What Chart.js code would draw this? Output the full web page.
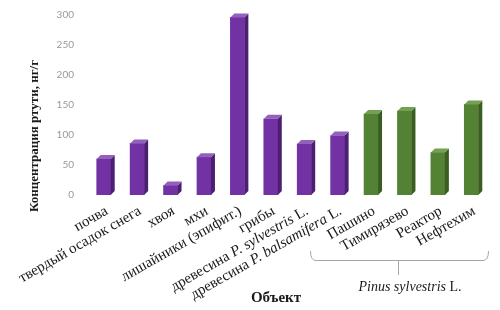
<!DOCTYPE html>
<html>
<head>
<meta charset="utf-8">
<script src="https://cdn.jsdelivr.net/npm/chart.js@4"></script>
<style>
  html, body { margin: 0; padding: 0; background: #fff; }
</style>
</head>
<body>
<canvas id="chart" width="500" height="310"></canvas>
<script>
// Chart data
const categories = [
  'почва', 'твердый осадок снега', 'хвоя', 'мхи', 'лишайники (эпифит.)', 'грибы',
  'древесина P. sylvestris L.', 'древесина P. balsamifera L.',
  'Пашино', 'Тимирязево', 'Реактор', 'Нефтехим'
];
const mercury = [60, 86, 16, 63, 296, 127, 85, 99, 135, 140, 71, 151];
const groups = ['other', 'other', 'other', 'other', 'other', 'other', 'other', 'other',
  'pinus', 'pinus', 'pinus', 'pinus'];
const yTicks = [0, 50, 100, 150, 200, 250, 300];
const italicParts = ['P. sylvestris', 'P. balsamifera'];

const palette = {
  other: { front: '#7232a3', side: '#4d1f73', top: '#9460bd' },
  pinus: { front: '#548235', side: '#3a5d22', top: '#74a052' }
};
const serif = '"Liberation Serif", "DejaVu Serif", serif';
const depth = 4;

function splitLabel(text) {
  for (const part of italicParts) {
    const k = text.indexOf(part);
    if (k >= 0) {
      return [
        { t: text.slice(0, k), it: false },
        { t: part, it: true },
        { t: text.slice(k + part.length), it: false }
      ];
    }
  }
  return [{ t: text, it: false }];
}

const decor = {
  id: 'decor',
  afterDatasetsDraw(chart) {
    const ctx = chart.ctx;
    const meta = chart.getDatasetMeta(0);
    ctx.save();
    meta.data.forEach((bar, i) => {
      const p = bar.getProps(['x', 'y', 'base', 'width'], true);
      const h = p.width / 2;
      const c = palette[groups[i]];
      // side face
      ctx.fillStyle = c.side;
      ctx.beginPath();
      ctx.moveTo(p.x + h, p.y);
      ctx.lineTo(p.x + h + depth, p.y - depth);
      ctx.lineTo(p.x + h + depth, p.base - depth);
      ctx.lineTo(p.x + h, p.base);
      ctx.closePath();
      ctx.fill();
      // top face
      ctx.fillStyle = c.top;
      ctx.beginPath();
      ctx.moveTo(p.x - h, p.y);
      ctx.lineTo(p.x - h + depth, p.y - depth);
      ctx.lineTo(p.x + h + depth, p.y - depth);
      ctx.lineTo(p.x + h, p.y);
      ctx.closePath();
      ctx.fill();
    });
    ctx.restore();
  },
  afterDraw(chart) {
    const ctx = chart.ctx;
    const xs = chart.scales.x;
    ctx.save();
    ctx.fillStyle = '#1a1a1a';

    // rotated category labels, some words in italics
    categories.forEach((label, i) => {
      const segs = splitLabel(label);
      const x = xs.getPixelForValue(i) + 3;
      ctx.save();
      ctx.translate(x, 210);
      ctx.rotate(-30 * Math.PI / 180);
      ctx.textBaseline = 'middle';
      ctx.textAlign = 'left';
      let total = 0;
      segs.forEach(s => {
        ctx.font = (s.it ? 'italic ' : '') + '15px ' + serif;
        s.w = ctx.measureText(s.t).width;
        total += s.w;
      });
      let cx = -total;
      segs.forEach(s => {
        ctx.font = (s.it ? 'italic ' : '') + '15px ' + serif;
        ctx.fillText(s.t, cx, 0);
        cx += s.w;
      });
      ctx.restore();
    });

    // y axis title
    ctx.save();
    ctx.translate(35, 136);
    ctx.rotate(-Math.PI / 2);
    ctx.font = 'bold 13px ' + serif;
    ctx.textAlign = 'center';
    ctx.textBaseline = 'middle';
    ctx.fillText('Концентрация ртути, нг/г', 0, 0);
    ctx.restore();

    // x axis title
    ctx.font = 'bold 15px ' + serif;
    ctx.textAlign = 'center';
    ctx.textBaseline = 'middle';
    ctx.fillText('Объект', 276, 298);

    // bracket under the Pinus group
    ctx.strokeStyle = '#a6a6a6';
    ctx.lineWidth = 1;
    ctx.beginPath();
    ctx.moveTo(310.5, 251);
    ctx.quadraticCurveTo(310.5, 260.5, 316, 260.5);
    ctx.lineTo(483, 260.5);
    ctx.quadraticCurveTo(488.5, 260.5, 488.5, 251);
    ctx.moveTo(398.5, 260.5);
    ctx.lineTo(398.5, 275);
    ctx.stroke();

    // group caption
    const cap = [{ t: 'Pinus sylvestris', it: true }, { t: ' L.', it: false }];
    let total = 0;
    cap.forEach(s => {
      ctx.font = (s.it ? 'italic ' : '') + '14px ' + serif;
      s.w = ctx.measureText(s.t).width;
      total += s.w;
    });
    let cx = 410 - total / 2;
    ctx.textAlign = 'left';
    cap.forEach(s => {
      ctx.font = (s.it ? 'italic ' : '') + '14px ' + serif;
      ctx.fillText(s.t, cx, 287);
      cx += s.w;
    });
    ctx.restore();
  }
};

new Chart(document.getElementById('chart'), {
  type: 'bar',
  data: {
    labels: categories,
    datasets: [{
      data: mercury,
      backgroundColor: groups.map(g => palette[g].front),
      barThickness: 14
    }]
  },
  options: {
    responsive: false,
    animation: false,
    devicePixelRatio: 1,
    layout: { padding: { top: 15, right: 12, bottom: 107, left: 0 } },
    plugins: { legend: { display: false }, tooltip: { enabled: false } },
    scales: {
      x: {
        offset: true,
        grid: { display: false },
        border: { display: false },
        ticks: { display: false }
      },
      y: {
        min: 0,
        max: 300,
        afterBuildTicks: s => { s.ticks = yTicks.map(v => ({ value: v })); },
        afterFit: s => { s.width = 87; },
        grid: { display: false },
        border: { display: false },
        ticks: { color: '#999999', padding: 5, font: { family: 'Lato', size: 10 } }
      }
    }
  },
  plugins: [decor]
});
</script>
</body>
</html>
